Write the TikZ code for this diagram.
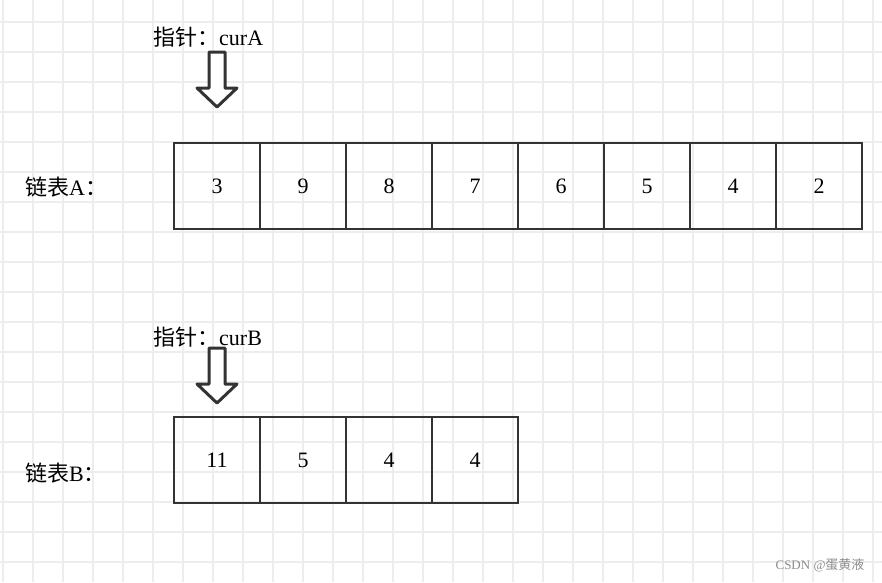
\documentclass[tikz,border=0pt]{standalone}
\usepackage{fontspec}
\setmainfont{Liberation Serif}
\newfontfamily\cjk{Noto Sans CJK SC}
\tikzset{
  cell/.style={draw=black!80, line width=2.5pt, minimum width=86pt, minimum height=86pt, inner sep=0pt, font=\fontsize{22}{26}\selectfont},
  ptr/.style={draw=black!80, line width=3pt, line join=round, fill=white},
  lbl/.style={font=\fontsize{22}{26}\selectfont, inner sep=0pt}
}
\begin{document}
\begin{tikzpicture}[x=1pt, y=-1pt]
  \useasboundingbox (0,0) rectangle (882,582);
  \fill[white] (0,0) rectangle (882,582);
  \foreach \i in {0,...,29}{
    \draw[black!7, line width=1.5pt] (3+30*\i,0) -- (3+30*\i,582);
  }
  \foreach \i in {0,...,19}{
    \draw[black!7, line width=1.5pt] (0,22+30*\i) -- (882,22+30*\i);
  }
  % list A
  \foreach \v [count=\k] in {3,9,8,7,6,5,4,2}{
    \node[cell] (a\k) at (131+86*\k,186) {\v};
  }
  % list B
  \foreach \v [count=\k] in {11,5,4,4}{
    \node[cell] (b\k) at (131+86*\k,460) {\v};
  }
  \node[lbl, anchor=west] (la) at (25,187) {{\cjk 链表}A{\cjk ：}};
  \node[lbl, anchor=west] (lb) at (25,473) {{\cjk 链表}B{\cjk ：}};
  \node[lbl, anchor=west] (pa) at (153,37) {{\cjk 指针：}curA};
  \node[lbl, anchor=west] (pb) at (153,337) {{\cjk 指针：}curB};
  % pointers
  \draw[ptr] (209,52) -- (225,52) -- (225,88) -- (237,88) -- (217,107)
    -- (197,88) -- (209,88) -- cycle;
  \draw[ptr] (209,348) -- (225,348) -- (225,384) -- (237,384) -- (217,403)
    -- (197,384) -- (209,384) -- cycle;
  \node[anchor=east, text=black!45, font=\fontsize{13}{15}\selectfont] (wm) at (868,565) {CSDN @{\cjk 蛋黄液}};
\end{tikzpicture}
\end{document}
